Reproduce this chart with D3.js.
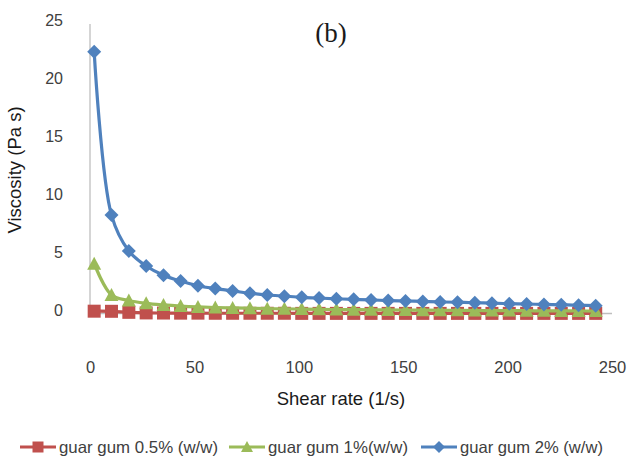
<!DOCTYPE html>
<html>
<head>
<meta charset="utf-8">
<script src="https://cdn.jsdelivr.net/npm/d3@7"></script>
<style>
  html, body { margin: 0; padding: 0; background: #fff; }
  svg { display: block; }
</style>
</head>
<body>
<svg id="chart" width="627" height="459"></svg>
<script>
// ---- data ----
const shearRate = [2.0, 10.3, 18.6, 26.9, 35.2, 43.4, 51.7, 60.0, 68.3, 76.6,
                   84.9, 93.1, 101.4, 109.7, 118.0, 126.3, 134.6, 142.8, 151.1, 159.4,
                   167.7, 176.0, 184.3, 192.5, 200.8, 209.1, 217.4, 225.7, 234.0, 242.2];
const gum05 = [0.20, 0.19, 0.10, 0.05, 0.04, 0.03, 0.03, 0.02, 0.02, 0.02,
               0.02, 0.02, 0.01, 0.01, 0.01, 0.01, 0.01, 0.01, 0.01, 0.01,
               0.01, 0.01, 0.01, 0.01, 0.01, 0.01, 0.01, 0.01, 0.01, 0.01];
const gum1 = [4.30, 1.60, 1.12, 0.88, 0.74, 0.64, 0.57, 0.52, 0.48, 0.45,
              0.42, 0.40, 0.38, 0.36, 0.34, 0.33, 0.32, 0.31, 0.30, 0.29,
              0.28, 0.27, 0.26, 0.25, 0.25, 0.24, 0.23, 0.22, 0.22, 0.21];
const gum2 = [22.6, 8.5, 5.4, 4.1, 3.3, 2.8, 2.4, 2.15, 1.95, 1.75,
              1.6, 1.5, 1.4, 1.33, 1.27, 1.22, 1.17, 1.12, 1.08, 1.04,
              1.0, 0.97, 0.93, 0.89, 0.85, 0.82, 0.78, 0.75, 0.71, 0.68];
const seriesNames = ["guar gum 0.5% (w/w)", "guar gum 1%(w/w)", "guar gum 2% (w/w)"];
const seriesColors = ["#C0504D", "#9BBB59", "#4F81BD"];
const seriesMarkers = ["square", "triangle", "diamond"];
const xTicks = [0, 50, 100, 150, 200, 250];
const yTicks = [0, 5, 10, 15, 20, 25];

const seriesValues = [gum05, gum1, gum2];

// ---- layout ----
const svg = d3.select("#chart");
const x = d3.scaleLinear().domain([0, 250]).range([90, 612]);
const y = d3.scaleLinear().domain([0, 25]).range([313.5, 24]);

const font = "'Liberation Sans', Arial, sans-serif";

// axes lines
svg.append("line").attr("x1", x(0)).attr("x2", x(0)).attr("y1", y(25)).attr("y2", y(0))
  .attr("stroke", "#BFBFBF").attr("stroke-width", 1.3);
svg.append("line").attr("x1", x(0)).attr("x2", x(250)).attr("y1", y(0)).attr("y2", y(0))
  .attr("stroke", "#BFBFBF").attr("stroke-width", 1.3);

// y axis tick labels
const yAxis = d3.axisLeft(y).tickValues(yTicks).tickSize(0).tickPadding(27);
const yG = svg.append("g").attr("transform", `translate(${x(0)},0)`).call(yAxis);
yG.select(".domain").remove();
yG.selectAll("text").attr("font-family", font).attr("font-size", 16)
  .attr("fill", "#404040").attr("dy", "0.1em");

// x axis tick labels (placed low, Excel style)
const xAxis = d3.axisBottom(x).tickValues(xTicks).tickSize(0).tickPadding(0);
const xG = svg.append("g").attr("transform", `translate(0,367)`).call(xAxis);
xG.select(".domain").remove();
xG.selectAll("text").attr("font-family", font).attr("font-size", 16.5)
  .attr("fill", "#404040").attr("dy", "0.36em");

// axis titles
svg.append("text").attr("x", 341).attr("y", 405).attr("text-anchor", "middle")
  .attr("font-family", font).attr("font-size", 18.5).attr("fill", "#1a1a1a")
  .text("Shear rate (1/s)");
svg.append("text").attr("transform", "translate(21,170) rotate(-90)")
  .attr("text-anchor", "middle").attr("font-family", font).attr("font-size", 18.5)
  .attr("fill", "#1a1a1a").text("Viscosity (Pa s)");

// panel label
svg.append("text").attr("x", 331).attr("y", 42).attr("text-anchor", "middle")
  .attr("font-family", "'Liberation Serif', 'Times New Roman', serif").attr("font-size", 27)
  .attr("fill", "#1a1a1a").text("(b)");

// marker shapes
function markerPath(type, s) {
  const h = s / 2;
  if (type === "square") return `M${-h},${-h}H${h}V${h}H${-h}Z`;
  if (type === "triangle") return `M0,${-h - 0.5}L${h + 0.5},${h - 0.5}L${-h - 0.5},${h - 0.5}Z`;
  return `M0,${-h - 0.5}L${h + 0.5},0L0,${h + 0.5}L${-h - 0.5},0Z`;
}

const line = d3.line().x(d => x(d[0])).y(d => y(d[1])).curve(d3.curveCatmullRom.alpha(0.5));

seriesValues.forEach((vals, i) => {
  const pts = shearRate.map((s, j) => [s, vals[j]]);
  const g = svg.append("g");
  g.append("path").attr("d", line(pts)).attr("fill", "none")
    .attr("stroke", seriesColors[i]).attr("stroke-width", 3.2).attr("stroke-linejoin", "round");
  g.selectAll("path.m").data(pts).enter().append("path").attr("class", "m")
    .attr("transform", d => `translate(${x(d[0])},${y(d[1])})`)
    .attr("d", markerPath(seriesMarkers[i], 13))
    .attr("fill", seriesColors[i]);
});

// legend
const legendItems = [
  { lx: 20, tx: 59 },
  { lx: 229, tx: 268 },
  { lx: 421, tx: 460 }
];
const ly = 447;
legendItems.forEach((it, i) => {
  const g = svg.append("g");
  g.append("line").attr("x1", it.lx).attr("x2", it.lx + 36).attr("y1", ly).attr("y2", ly)
    .attr("stroke", seriesColors[i]).attr("stroke-width", 3.2);
  g.append("path").attr("transform", `translate(${it.lx + 18},${ly})`)
    .attr("d", markerPath(seriesMarkers[i], 11)).attr("fill", seriesColors[i]);
  g.append("text").attr("x", it.tx).attr("y", ly).attr("dy", "0.35em")
    .attr("font-family", font).attr("font-size", 16.5).attr("fill", "#404040")
    .attr("textLength", [159, 140, 143][i]).attr("lengthAdjust", "spacingAndGlyphs")
    .text(seriesNames[i]);
});
</script>
</body>
</html>
